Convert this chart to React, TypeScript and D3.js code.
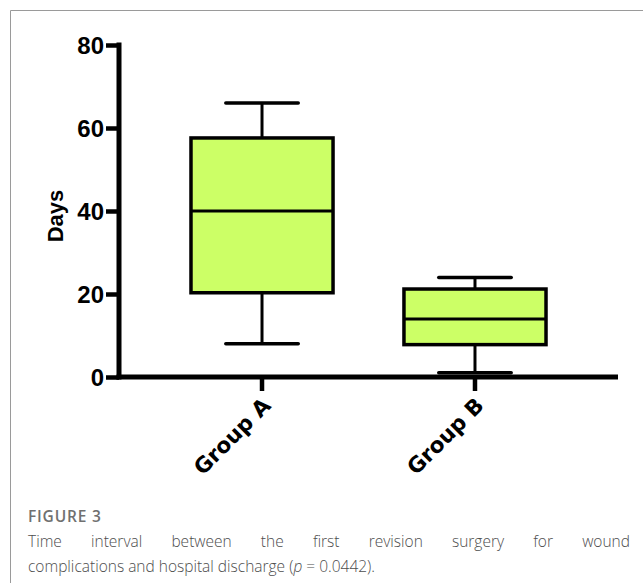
import { useRef, useEffect } from "react";
import { select, scaleLinear, scaleBand, axisLeft, axisBottom } from "d3";

// data
const groups = ["Group A", "Group B"];
const whiskerLow = [8, 1];
const q1 = [20.3, 7.8];
const medians = [40, 14];
const q3 = [57.6, 21.2];
const whiskerHigh = [66, 24];
const yTicks = [0, 20, 40, 60, 80];

const captionTitle = "FIGURE 3";
const captionLine1 = "Time interval between the first revision surgery for wound";
const captionLine2a = "complications and hospital discharge (";
const captionLine2b = "p";
const captionLine2c = " = 0.0442).";

const W = 643;
const H = 583;

const App = () => {
  const svgRef = useRef<SVGSVGElement>(null);

  useEffect(() => {
    const svg = select(svgRef.current);
    svg.selectAll("*").remove();

    // frame
    svg.append("path")
      .attr("d", `M10.5,${H} V10.5 H${W}`)
      .attr("fill", "none")
      .attr("stroke", "#9a9a9a")
      .attr("stroke-width", 1);

    const x0 = 119;
    const x1 = 618;
    const yScale = scaleLinear().domain([0, 80]).range([377, 45]);
    const xScale = scaleBand().domain(groups).range([x0, x1])
      .paddingInner(0.333).paddingOuter(0.338);
    const boxW = xScale.bandwidth();
    const capW = boxW * 0.51;

    const g = svg.append("g");

    // boxes
    groups.forEach((grp, i) => {
      const bx = xScale(grp) ?? 0;
      const cx = bx + boxW / 2;
      // whiskers
      g.append("line")
        .attr("x1", cx).attr("x2", cx)
        .attr("y1", yScale(whiskerHigh[i])).attr("y2", yScale(q3[i]))
        .style("stroke", "#000").style("stroke-width", 3);
      g.append("line")
        .attr("x1", cx).attr("x2", cx)
        .attr("y1", yScale(q1[i])).attr("y2", yScale(whiskerLow[i]))
        .style("stroke", "#000").style("stroke-width", 3);
      [whiskerHigh[i], whiskerLow[i]].forEach((v) => {
        g.append("line")
          .attr("x1", cx - capW / 2).attr("x2", cx + capW / 2)
          .attr("y1", yScale(v)).attr("y2", yScale(v))
          .style("stroke", "#000").style("stroke-width", 3.5)
          .style("stroke-linecap", "round");
      });
      g.append("rect")
        .attr("x", bx).attr("y", yScale(q3[i]))
        .attr("width", boxW).attr("height", yScale(q1[i]) - yScale(q3[i]))
        .style("fill", "#ccff66")
        .style("stroke", "#000").style("stroke-width", 3.5);
      g.append("line")
        .attr("x1", bx).attr("x2", bx + boxW)
        .attr("y1", yScale(medians[i])).attr("y2", yScale(medians[i]))
        .style("stroke", "#000").style("stroke-width", 3);
    });

    const tickFont = "'Liberation Sans Narrow', 'Arial Narrow', 'Liberation Sans', Arial, sans-serif";

    // y axis
    const yAxis = axisLeft(yScale).tickValues(yTicks).tickSize(13).tickSizeOuter(0).tickPadding(2);
    const ya = svg.append("g").attr("transform", `translate(${x0},0)`).call(yAxis);
    ya.select(".domain")
      .attr("d", `M0,${yScale(80) - 2.5}V${yScale(0) + 2.5}`)
      .style("stroke", "#000").style("stroke-width", 5);
    ya.selectAll(".tick line").style("stroke", "#000").style("stroke-width", 4.5);
    ya.selectAll(".tick text")
      .style("font-family", tickFont)
      .style("font-weight", "bold")
      .style("font-size", "24px")
      .style("fill", "#000")
      .attr("dy", "0.36em");

    // x axis
    const xAxis = axisBottom(xScale).tickSize(14).tickSizeOuter(0).tickPadding(0);
    const xa = svg.append("g").attr("transform", `translate(0,${yScale(0)})`).call(xAxis);
    xa.select(".domain")
      .attr("d", `M${x0 - 2.5},0H${x1}`)
      .style("stroke", "#000").style("stroke-width", 5);
    xa.selectAll(".tick line").style("stroke", "#000").style("stroke-width", 4.5);
    xa.selectAll(".tick text")
      .style("font-family", "'DejaVu Sans', 'Verdana', sans-serif")
      .style("font-weight", "bold")
      .style("font-size", "21.5px")
      .style("fill", "#000")
      .attr("text-anchor", "end")
      .attr("y", 0)
      .attr("dy", 0)
      .attr("transform", "translate(10,30) rotate(-45)");

    // y label
    svg.append("text")
      .attr("transform", `translate(63,216) rotate(-90)`)
      .attr("text-anchor", "middle")
      .style("font-family", "'Liberation Sans', Arial, sans-serif")
      .style("font-weight", "bold")
      .style("font-size", "22px")
      .text("Days");

    // caption
    const capFont = "'Open Sans', sans-serif";
    svg.append("text")
      .attr("x", 28).attr("y", 522)
      .style("font-family", capFont)
      .style("font-size", "15.5px")
      .style("font-weight", 600)
      .style("letter-spacing", "0.8px")
      .style("fill", "#707070")
      .text(captionTitle);

    // justified first line: place words with even gaps
    const words = captionLine1.split(" ");
    const left = 28;
    const right = 630;
    const lineG = svg.append("g");
    const nodes = words.map((w) =>
      lineG.append("text")
        .attr("y", 547)
        .style("font-family", capFont)
        .style("font-size", "15.5px")
        .style("font-weight", 300)
        .style("fill", "#4d4d4d")
        .text(w)
    );
    const widths = nodes.map((n) => (n.node() as SVGTextElement).getComputedTextLength());
    const total = widths.reduce((a, b) => a + b, 0);
    const gap = (right - left - total) / (words.length - 1);
    let cur = left;
    nodes.forEach((n, i) => {
      n.attr("x", cur);
      cur += widths[i] + gap;
    });

    const t2 = svg.append("text")
      .attr("x", left).attr("y", 572)
      .style("font-family", capFont)
      .style("font-size", "15.5px")
      .style("font-weight", 300)
      .style("fill", "#4d4d4d");
    t2.append("tspan").text(captionLine2a);
    t2.append("tspan").style("font-style", "italic").text(captionLine2b);
    t2.append("tspan").text(captionLine2c);
  }, []);

  return (
    <svg
      ref={svgRef}
      width={W}
      height={H}
      viewBox={`0 0 ${W} ${H}`}
      style={{ position: "absolute", left: 0, top: 0, background: "#fff" }}
    ></svg>
  );
};

export default App;
